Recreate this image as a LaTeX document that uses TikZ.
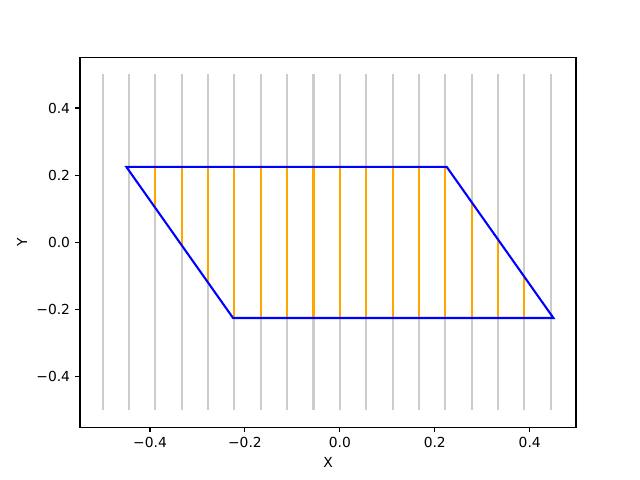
\documentclass[tikz,border=0pt]{standalone}
\usepackage{fontspec}
\setmainfont{DejaVu Sans}
\usetikzlibrary{positioning,calc}

\definecolor{gridgray}{HTML}{CCCCCC}
\definecolor{fillorange}{HTML}{FFA500}
\definecolor{shapeblue}{HTML}{0000FF}

\tikzset{
  frame/.style={black,line width=0.8pt},
  tickmark/.style={black,line width=0.8pt},
  ticklabel/.style={font=\fontsize{10}{12}\selectfont,inner sep=0pt},
  rowline/.style={gridgray,line width=1.5pt},
  cutline/.style={fillorange,line width=1.5pt},
  outline/.style={shapeblue,line width=1.5pt,line join=miter}
}

\begin{document}
\begin{tikzpicture}[x=4.7464in,y=3.36in]
\useasboundingbox (-0.71606,-0.70714) rectangle (0.63233,0.72143);

% vertical lines over the whole square
\foreach \k in {0,...,17}{
  \draw[rowline] ({-0.5+\k/18},-0.5) -- ({-0.5+\k/18},0.5);
}

% parts of the lines inside the parallelogram
\foreach \k in {2,...,16}{
  \pgfmathsetmacro{\xx}{-0.5+\k/18}
  \pgfmathsetmacro{\ylow}{max(-0.225,0.225-2*(\xx+0.45))}
  \pgfmathsetmacro{\yup}{min(0.225,0.225-2*(\xx-0.225))}
  \draw[cutline] (\xx,\ylow) -- (\xx,\yup);
}

% the parallelogram
\coordinate (tl) at (-0.45,0.225);
\coordinate (tr) at (0.225,0.225);
\coordinate (br) at (0.45,-0.225);
\coordinate (bl) at (-0.225,-0.225);
\draw[outline] (tl) -- (tr) -- (br) -- (bl) -- cycle;

% axes
\draw[frame] (-0.5475,-0.55) rectangle (0.4975,0.55);
\foreach \t/\lab [count=\i] in {-0.4/−0.4,-0.2/−0.2,0/0.0,0.2/0.2,0.4/0.4}{
  \draw[tickmark] (\t,-0.55) -- ++(0,-3.5pt) coordinate (xt\i);
  \node[ticklabel,below=3.5pt of xt\i] (xl\i) {\lab};
  \draw[tickmark] (-0.5475,\t) -- ++(-3.5pt,0) coordinate (yt\i);
  \node[ticklabel,left=3.5pt of yt\i] (yl\i) {\lab};
}
\node[ticklabel] (xlabel) at (-0.025,-0.6536) {X};
\node[ticklabel,rotate=90] (ylabel) at (-0.6697,0) {Y};
\end{tikzpicture}
\end{document}
